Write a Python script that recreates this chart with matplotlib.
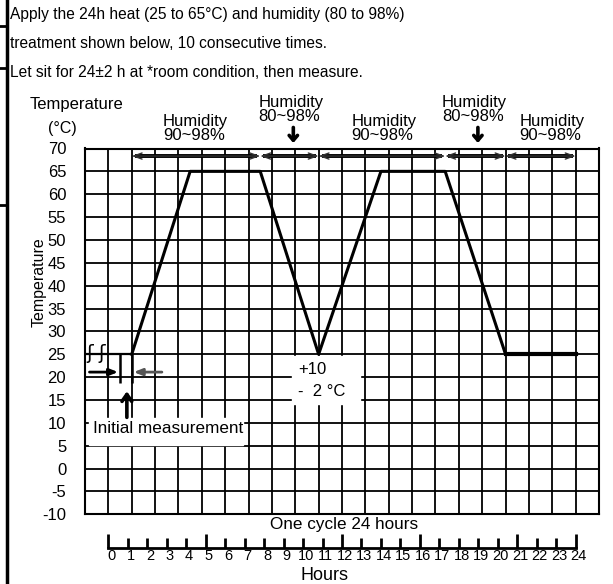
import matplotlib.pyplot as plt
from matplotlib.lines import Line2D
from matplotlib.patches import Rectangle

plt.rcParams['font.family'] = ['Liberation Sans', 'DejaVu Sans']

# temperature profile over one cycle (hours, degC)
hours = [1.2, 4.2, 7.8, 10.8, 14.0, 17.3, 20.4, 24.0]
temps = [25, 65, 65, 25, 65, 65, 25, 25]
pre_hours = [-1.2, 1.2]
pre_temps = [25, 25]

# humidity bands along the top
band_edges = [1.2, 7.8, 10.8, 17.3, 20.4, 24.0]
band_labels = ['Humidity\n90~98%', 'Humidity\n80~98%', 'Humidity\n90~98%',
               'Humidity\n80~98%', 'Humidity\n90~98%']
band_label_x = [4.47, 9.38, 14.15, 18.8, 22.8]
band_arrow_x = [9.5, 18.98]

yticks = list(range(-10, 75, 5))
ytick_labels = [str(v) for v in yticks]
ruler_hours = list(range(0, 25))
long_ticks = [0, 5, 12, 16, 21, 24]

header = ['Apply the 24h heat (25 to 65°C) and humidity (80 to 98%)',
          'treatment shown below, 10 consecutive times.',
          'Let sit for 24±2 h at *room condition, then measure.']

W, H = 613, 584
fig = plt.figure(figsize=(W / 100, H / 100), dpi=100)


def fx(px):
    return px / W


def fy(py):
    return 1 - py / H


ax = fig.add_axes([fx(85), fy(514.3), (599 - 85) / W, (514.3 - 148.5) / H])
ax.set_xlim(-1.2, 25.2)
ax.set_ylim(-10, 70)
ax.set_xticks([-1.2 + 1.2 * k for k in range(23)])
ax.set_xticklabels([])
ax.set_yticks(yticks)
ax.set_yticklabels(ytick_labels, fontsize=12)
ax.tick_params(length=0, pad=13.5)
ax.grid(True, color='black', lw=1.3)
for s in ax.spines.values():
    s.set_linewidth(1.5)

# temperature curve
ax.plot(pre_hours, pre_temps, color='black', lw=1.6, zorder=4)
ax.plot(hours, temps, color='black', lw=2.2, zorder=4)
ax.plot(hours[-2:], temps[-2:], color='black', lw=3, zorder=4)

# humidity arrows
y_arr = 68.35
for a, b in zip(band_edges[:-1], band_edges[1:]):
    ax.plot([a + 0.15, b - 0.15], [y_arr, y_arr], color='black', lw=2.8,
            solid_capstyle='butt', zorder=4)
    ax.annotate('', xy=(b, y_arr), xytext=(a, y_arr), zorder=4,
                arrowprops=dict(arrowstyle='<->, head_length=0.6, head_width=0.22',
                                lw=1, color='#333333', shrinkA=0, shrinkB=0))
for x, lab in zip(band_label_x, band_labels):
    y = 78.5 if '80' in lab else 74.3
    ax.text(x, y, lab, ha='center', va='center', multialignment='left',
            fontsize=12, linespacing=0.92, clip_on=False)
for x in band_arrow_x:
    ax.annotate('', xy=(x, 71.2), xytext=(x, 74.6), annotation_clip=False,
                arrowprops=dict(arrowstyle='->, head_length=0.35, head_width=0.3',
                                lw=2.6, color='black', shrinkA=0, shrinkB=0))

# initial measurement marks
ax.text(-0.62, 25.2, 'ʃ ʃ', ha='center', va='center', fontsize=14,
        family='DejaVu Sans', zorder=5)
ax.vlines([0.6, 1.2], 18.7, 25, color='black', lw=1.8, zorder=4)
ax.annotate('', xy=(0.5, 21.1), xytext=(-0.97, 21.1),
            arrowprops=dict(arrowstyle='-|>, head_length=0.5, head_width=0.2',
                            lw=2, color='black', shrinkA=0, shrinkB=0))
ax.annotate('', xy=(1.3, 21.1), xytext=(2.75, 21.1),
            arrowprops=dict(arrowstyle='-|>, head_length=0.5, head_width=0.2',
                            lw=2, color='#555555', shrinkA=0, shrinkB=0))
ax.annotate('', xy=(0.95, 16.9), xytext=(0.95, 11.2),
            arrowprops=dict(arrowstyle='->, head_length=0.5, head_width=0.35',
                            lw=2.6, color='black', shrinkA=0, shrinkB=0))
ax.add_patch(Rectangle((-0.97, 5.15), 7.9, 5.9, color='white', zorder=2))
ax.text(-0.77, 8.7, 'Initial measurement', fontsize=12.3, va='center', zorder=3)

# tolerance note
ax.add_patch(Rectangle((9.43, 14.1), 3.5, 10.6, color='white', zorder=2))
ax.text(9.74, 21.6, '+10', fontsize=12, va='center', zorder=3)
ax.text(9.74, 16.75, '-  2 °C', fontsize=12, va='center', zorder=3)

# axis captions
fig.text(fx(30), fy(105), 'Temperature', fontsize=12, va='center')
fig.text(fx(62), fy(128), '(°C)', fontsize=11.5, ha='center', va='center')
fig.text(fx(39), fy(282), 'Temperature', rotation=90, fontsize=11.5,
         ha='center', va='center')

for i, line in enumerate(header):
    fig.text(fx(10), fy(19.5 + 28.5 * i), line, fontsize=11.2, va='baseline')

# hours ruler below the chart
rul = fig.add_axes([fx(85), 0, (599 - 85) / W, (584 - 515) / H])
rul.set_xlim(-1.2, 25.2)
rul.set_ylim(584, 515)
rul.axis('off')
rul.plot([0, 24], [548, 548], color='black', lw=2)
for h in ruler_hours:
    top = 534 if h in long_ticks else 538
    rul.vlines(h, top, 548, color='black', lw=2)
    rul.text(h + 0.15, 556, str(h), ha='center', va='center', fontsize=10.5)
rul.text(12.13, 524, 'One cycle 24 hours', ha='center', va='center', fontsize=12.3)
rul.text(11.1, 576, 'Hours', ha='center', va='center', fontsize=13)

# page border remnants on the left
fig.add_artist(Line2D([fx(6.5), fx(6.5)], [0, 1], lw=2.5, color='black'))
for yy in [26, 68, 205]:
    fig.add_artist(Line2D([0, fx(6.5)], [fy(yy), fy(yy)], lw=2, color='black'))

fig.savefig('out.png', dpi=100)
